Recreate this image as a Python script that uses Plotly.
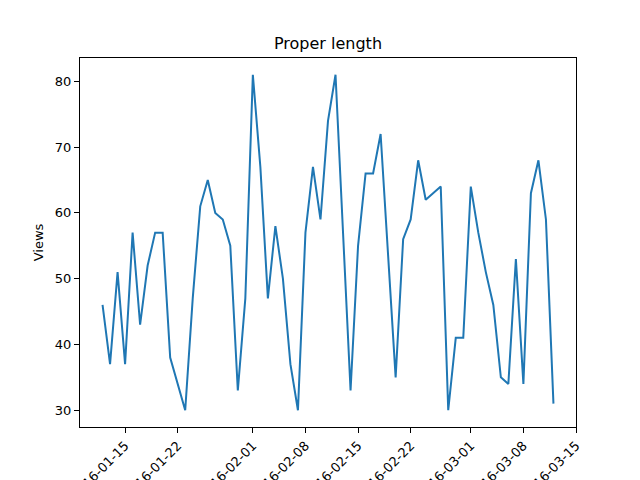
import pandas as pd
import plotly.graph_objects as go

# Gunluk goruntulenme verileri (bazi gunler eksik)
dates = [
    "2016-01-12", "2016-01-13", "2016-01-14", "2016-01-15", "2016-01-16",
    "2016-01-17", "2016-01-18", "2016-01-19", "2016-01-20", "2016-01-21",
    "2016-01-23", "2016-01-24", "2016-01-25", "2016-01-26", "2016-01-27",
    "2016-01-28", "2016-01-29", "2016-01-30", "2016-01-31", "2016-02-01",
    "2016-02-02", "2016-02-03", "2016-02-04", "2016-02-05", "2016-02-06",
    "2016-02-07", "2016-02-08", "2016-02-09", "2016-02-10", "2016-02-11",
    "2016-02-12", "2016-02-14", "2016-02-15", "2016-02-16", "2016-02-17",
    "2016-02-18", "2016-02-20", "2016-02-21", "2016-02-22", "2016-02-23",
    "2016-02-24", "2016-02-26", "2016-02-27", "2016-02-28", "2016-02-29",
    "2016-03-01", "2016-03-02", "2016-03-03", "2016-03-04", "2016-03-05",
    "2016-03-06", "2016-03-07", "2016-03-08", "2016-03-09", "2016-03-10",
    "2016-03-11", "2016-03-12",
]
views = [
    46, 37, 51, 37, 57,
    43, 52, 57, 57, 38,
    30, 47, 61, 65, 60,
    59, 55, 33, 47, 81,
    67, 47, 58, 50, 37,
    30, 57, 67, 59, 74,
    81, 33, 55, 66, 66,
    72, 35, 56, 59, 68,
    62, 64, 30, 41, 41,
    64, 57, 51, 46, 35,
    34, 53, 34, 63, 68,
    59, 31,
]
tick_dates = ["2016-01-15", "2016-01-22", "2016-02-01", "2016-02-08", "2016-02-15",
              "2016-02-22", "2016-03-01", "2016-03-08", "2016-03-15"]

x = pd.to_datetime(dates)

# matplotlib benzeri %5 kenar boslugu
span = x.max() - x.min()
x_range = [x.min() - span * 0.05, x.max() + span * 0.05]
y_pad = (max(views) - min(views)) * 0.05
y_range = [min(views) - y_pad, max(views) + y_pad]

fig = go.Figure(go.Scatter(
    x=x, y=views, mode="lines",
    line=dict(color="#1f77b4", width=2),
))

axis_style = dict(
    showline=True, linecolor="black", linewidth=1, mirror=True,
    ticks="outside", ticklen=5, tickwidth=1, tickcolor="black",
    showgrid=False, zeroline=False, automargin=False,
    tickfont=dict(family="DejaVu Sans", size=13, color="black"),
)

# sayfa govdesindeki 8px bosluk icin kenar bosluklari kaydirildi
fig.update_layout(
    width=640, height=480,
    margin=dict(l=72, r=72, t=50, b=61, pad=0),
    plot_bgcolor="white", paper_bgcolor="white",
    showlegend=False,
    font=dict(family="DejaVu Sans", color="black"),
    title=dict(text="Proper length", x=0.5, xref="paper", y=1 - 35 / 480,
               yref="container", xanchor="center", yanchor="middle",
               font=dict(size=16, color="black")),
    xaxis=dict(range=x_range, tickvals=pd.to_datetime(tick_dates), ticktext=tick_dates,
               tickangle=-45, **axis_style),
    yaxis=dict(range=y_range, tickvals=[30, 40, 50, 60, 70, 80],
               title=dict(text="Views", font=dict(size=13), standoff=8), **axis_style),
)

fig.write_html("out.html")
